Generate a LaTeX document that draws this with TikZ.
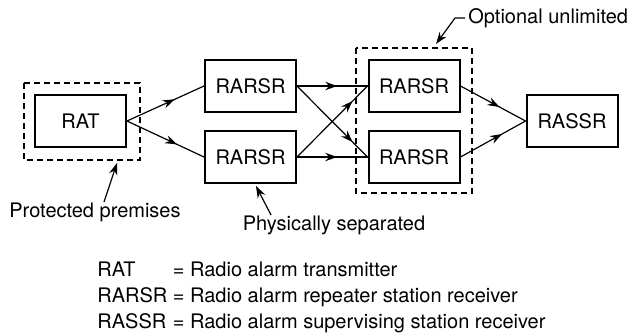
\documentclass[tikz,border=0pt]{standalone}
\usepackage{fontspec}
\setmainfont{TeX Gyre Heros}
\usetikzlibrary{arrows.meta,decorations.markings}

\begin{document}
\begin{tikzpicture}[
    x=0.5pt, y=-0.5pt,
    font=\fontsize{10}{12}\selectfont,
    unit/.style      = {draw, line width=1pt, minimum width=45.5pt,
                        minimum height=26pt, inner sep=0pt},
    zone/.style      = {draw, line width=0.6pt, dash pattern=on 3pt off 2pt},
    link/.style      = {line width=0.6pt, postaction={decorate},
                        decoration={markings, mark=at position #1 with
                        {\arrow{Stealth[length=6pt, width=4.2pt, inset=2pt]}}}},
    link/.default    = 0.62,
    callout/.style   = {-{Stealth[length=6pt, width=4.2pt, inset=2pt]}, line width=0.6pt},
    lbl/.style       = {inner sep=0pt},
]
\useasboundingbox (0,0) rectangle (627,334);

% ============================================================
%  UNITS
% ============================================================
\node[unit] (RAT)  at (80.5, 121) {RAT};
\node[unit] (R1)   at (250.5, 86)  {RARSR};
\node[unit] (R2)   at (250.5, 157) {RARSR};
\node[unit] (R3)   at (414, 86)    {RARSR};
\node[unit] (R4)   at (414, 157)   {RARSR};
\node[unit] (RASSR) at (572, 121)  {RASSR};

% ============================================================
%  DASHED ZONES
% ============================================================
\draw[zone] (24, 83) rectangle (140, 160);
\draw[zone] (356, 48) rectangle (472, 193);

% ============================================================
%  RADIO PATHS
% ============================================================
\draw[link] (RAT.east) -- (R1.west);
\draw[link=0.65] (RAT.east) -- (R2.west);

\draw[link=0.57] (R1.east) -- (R3.west);
\draw[link=0.57] (R2.east) -- (R4.west);
\draw[link=0.79] (R1.east) -- (R4.west);
\draw[link=0.79] (R2.east) -- (R3.west);

\draw[link=0.6]  (R3.east) -- (RASSR.west);
\draw[link=0.64] (R4.east) -- (RASSR.west);

% ============================================================
%  CALLOUTS
% ============================================================
\node[lbl] (prot) at (95, 212) {Protected premises};
\coordinate (protTail) at (104, 202);
\coordinate (protTip)  at (117, 163);
\draw[callout] (protTail) -- (protTip);

\node[lbl] (phys) at (334, 225) {Physically separated};
\coordinate (physTail) at (271, 215);
\coordinate (physTip)  at (256, 186);
\draw[callout] (physTail) -- (physTip);

\node[lbl, anchor=west] (opt) at (468, 18) {Optional unlimited};
\coordinate (optStart) at (465, 18);
\coordinate (optBend)  at (455, 18);
\coordinate (optTip)   at (436, 44);
\draw[callout] (optStart) -- (optBend) -- (optTip);

% ============================================================
%  LEGEND
% ============================================================
\node[lbl, anchor=north west] (legend) at (97, 258)
    {\fontsize{10}{13}\selectfont
     \begin{tabular}{@{}l@{ }l@{}}
     RAT   & = Radio alarm transmitter\\
     RARSR & = Radio alarm repeater station receiver\\
     RASSR & = Radio alarm supervising station receiver
     \end{tabular}};

\end{tikzpicture}
\end{document}
